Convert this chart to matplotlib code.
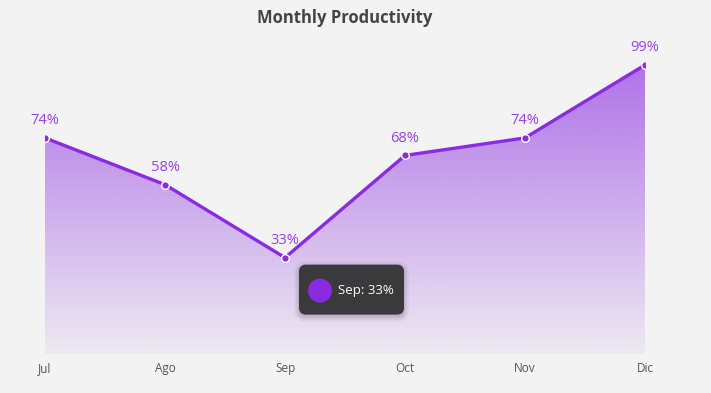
import matplotlib.pyplot as plt
from matplotlib.patches import FancyBboxPatch, Circle
import numpy as np

months = ["Jul", "Ago", "Sep", "Oct", "Nov", "Dic"]
productivity = [74, 58, 33, 68, 74, 99]
tooltip_month = "Sep"

purple = "#8a2be2"
bg = "#f3f3f3"

plt.rcParams["font.family"] = ["Open Sans", "DejaVu Sans"]

W, H = 711, 393
fig = plt.figure(figsize=(W / 100, H / 100), dpi=100, facecolor=bg)
ax = fig.add_axes([45 / W, 39 / H, 600 / W, 292 / H])
ax.set_facecolor(bg)

x = np.arange(len(months))
ax.set_xlim(0, len(months) - 1)
ax.set_ylim(0, 100)

# gradient fill under the line, clipped to the area polygon
area = ax.fill_between(x, productivity, 0, color="none", lw=0)
grad = np.linspace(0, 1, 256).reshape(-1, 1)
cols = np.zeros((256, 1, 4))
cols[..., :3] = np.array([0x8a, 0x2b, 0xe2]) / 255
cols[..., 3] = 0.05 + 0.6 * grad
img = ax.imshow(cols, extent=[0, len(months) - 1, 0, 100], origin="lower",
                aspect="auto", zorder=1)
img.set_clip_path(area.get_paths()[0], transform=ax.transData)

ax.plot(x, productivity, color=purple, lw=2.4, zorder=3, solid_capstyle="round")
ax.plot(x, productivity, "o", ms=5.5, mfc=purple, mec="white", mew=1, zorder=4)

for xi, v in zip(x, productivity):
    ax.annotate(f"{v}%", (xi, v), xytext=(0, 7), textcoords="offset points",
                ha="center", va="bottom", color="#9b3fe6", fontsize=10.5, zorder=5)

ax.set_xticks(x)
ax.set_xticklabels(months, color="#555555", fontsize=8.5)
ax.tick_params(axis="x", length=0, pad=6)
ax.set_yticks([])
for s in ax.spines.values():
    s.set_visible(False)

fig.suptitle("Monthly Productivity", x=(45 + 300) / W, y=1 - 9 / H, va="top",
             fontsize=12, fontweight="bold", color="#444444")

# tooltip anchored to the Sep point (offsets in pixels)
ti = months.index(tooltip_month)
px, py = ax.transData.transform((ti, productivity[ti]))
bx, by, bw, bh = px + 14, py - 57, 105, 50

for k, a in [(5, 0.04), (3, 0.06), (1, 0.08)]:
    sh = FancyBboxPatch(((bx - k) / 100, (by - k - 2) / 100), (bw + 2 * k) / 100,
                        (bh + 2 * k) / 100,
                        boxstyle=f"round,pad=0,rounding_size={(7 + k) / 100}",
                        transform=fig.dpi_scale_trans, fc="black", ec="none",
                        alpha=a, zorder=6)
    fig.patches.append(sh)

box = FancyBboxPatch((bx / 100, by / 100), bw / 100, bh / 100,
                     boxstyle="round,pad=0,rounding_size=0.07",
                     transform=fig.dpi_scale_trans, fc="#3a393c", ec="none",
                     zorder=7)
fig.patches.append(box)
dot = Circle(((px + 35) / 100, (py - 33) / 100), 12 / 100, transform=fig.dpi_scale_trans,
             fc=purple, ec="none", zorder=8)
fig.patches.append(dot)
fig.text((px + 53) / W, (py - 33) / H, f"{tooltip_month}: {productivity[ti]}%",
         color="white", fontsize=9.5, va="center", ha="left", zorder=9)

fig.savefig("out.png", dpi=100, facecolor=bg)
